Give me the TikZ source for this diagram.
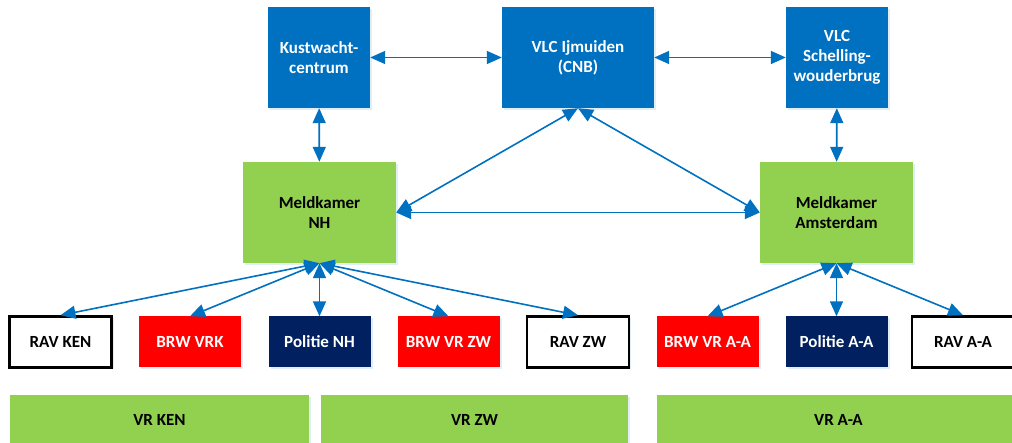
\documentclass[tikz,border=0pt]{standalone}
\usepackage{fontspec}
\setmainfont{Carlito}
\usetikzlibrary{positioning,shapes,arrows.meta,shadows}
\definecolor{vlcblue}{RGB}{0,112,192}
\definecolor{mkgreen}{RGB}{146,208,80}
\definecolor{brwred}{RGB}{255,0,0}
\definecolor{polnavy}{RGB}{0,32,96}

\begin{document}
\begin{tikzpicture}[x=1pt,y=-1pt,
				box/.style={rectangle, fill=vlcblue, text=white, align=center, inner sep=2pt,
					minimum width=102pt, minimum height=101pt,
					font=\fontsize{17}{20}\selectfont\bfseries,
					drop shadow={shadow xshift=2pt, shadow yshift=-2pt, fill=vlcblue, opacity=0.12}},
				meldbox/.style={box, fill=mkgreen, text=black, minimum width=153pt},
				unit/.style={box, minimum height=51pt},
				ravbox/.style={unit, fill=white, text=black, draw=black, line width=2.5pt},
				regio/.style={box, fill=mkgreen, text=black, minimum height=50pt, drop shadow={opacity=0}},
				link/.style={{Triangle[length=15pt,width=13pt]}-{Triangle[length=15pt,width=13pt]}, draw=vlcblue, line width=1.6pt}
				]
				\useasboundingbox (0,0) rectangle (1012,443);
				% top row
				\node[box] (kust) at (319,57.5) {Kustwacht-\\centrum};
				\node[box, minimum width=152pt] (vlc) at (578,57.5) {VLC Ijmuiden\\(CNB)};
				\node[box] (schel) at (837,57.5) {VLC\\Schelling-\\wouderbrug};
				
				% meldkamers
				\node[meldbox] (mknh) at (319.5,212.5) {Meldkamer\\NH};
				\node[meldbox] (mkams) at (836.5,212.5) {Meldkamer\\Amsterdam};
				
				% disciplines
				\node[ravbox] (ravken) at (60.5,342) {RAV KEN};
				\node[unit, fill=brwred] (brwvrk) at (190,342) {BRW VRK};
				\node[unit, fill=polnavy] (polnh) at (319.5,342) {Politie NH};
				\node[unit, fill=brwred] (brwzw) at (448.5,342) {BRW VR ZW};
				\node[ravbox] (ravzw) at (578,342) {RAV ZW};
				\node[unit, fill=brwred] (brwaa) at (707.5,342) {BRW VR A-A};
				\node[unit, fill=polnavy] (polaa) at (836.5,342) {Politie A-A};
				\node[ravbox] (ravaa) at (963,342) {RAV A-A};
				
				% veiligheidsregio's
				\node[regio, minimum width=299pt] (vrken) at (159.5,420) {VR KEN};
				\node[regio, minimum width=307pt] (vrzw) at (474.5,420) {VR ZW};
				\node[regio, minimum width=363pt] (vraa) at (838.5,420) {VR A-A};
				
				\draw[link] (kust) -- (vlc);
				\draw[link] (vlc) -- (schel);
				\draw[link] (kust) -- (mknh);
				\draw[link] (schel) -- (mkams);
				\draw[link] (vlc.south) -- (mknh.east);
				\draw[link] (vlc.south) -- (mkams.west);
				\draw[link] (mknh.east) -- (mkams.west);
				
				\foreach \n in {ravken,brwvrk,polnh,brwzw,ravzw}
					\draw[link] (mknh.south) -- (\n.north);
				\foreach \n in {brwaa,polaa,ravaa}
					\draw[link] (mkams.south) -- (\n.north);
			\end{tikzpicture}
\end{document}
